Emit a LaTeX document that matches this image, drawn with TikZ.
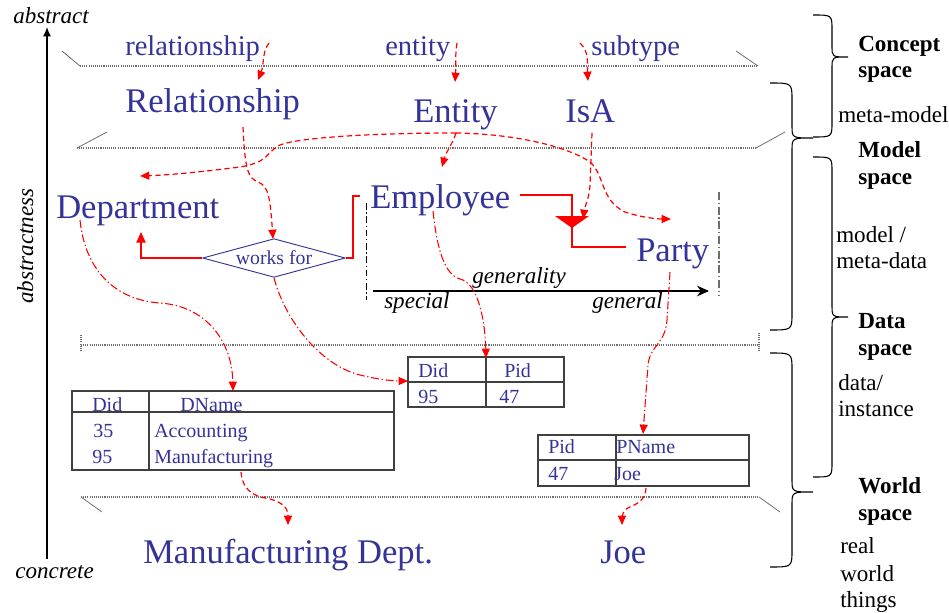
\documentclass[tikz,border=0pt]{standalone}
\usepackage{fontspec}
\setmainfont{Liberation Serif}
\usetikzlibrary{arrows.meta,shapes.geometric}
\definecolor{tblue}{RGB}{51,51,153}
\definecolor{tgray}{RGB}{110,110,110}
\definecolor{tline}{RGB}{64,64,64}
\tikzset{
 concept/.style={text=tblue, font=\fontsize{21.4}{24}\selectfont, inner sep=0pt, anchor=base west},
 big/.style={text=tblue, font=\fontsize{25.9}{30}\selectfont, inner sep=0pt, anchor=base west},
 cell/.style={text=tblue, font=\fontsize{15}{18}\selectfont, inner sep=0pt, anchor=base west},
 axislbl/.style={font=\itshape\fontsize{17.3}{20}\selectfont, inner sep=0pt, anchor=base west},
 side/.style={font=\fontsize{17.3}{20}\selectfont, inner sep=0pt, anchor=base west},
 sideb/.style={font=\bfseries\fontsize{17.3}{20}\selectfont, inner sep=0pt, anchor=base west},
 plane/.style={tgray, line width=0.9pt, dash pattern=on 0.8pt off 0.8pt},
 planeend/.style={tgray, line width=0.6pt},
 tip/.style={-{Triangle[length=7pt,width=6pt]}},
 redarrow/.style={red, line width=0.9pt, dash pattern=on 4pt off 2.5pt, tip},
 reddd/.style={red, line width=0.8pt, dash pattern=on 6pt off 2pt on 1pt off 2pt, tip},
 redsolid/.style={red, line width=0.9pt},
 tbl/.style={tline, line width=1pt},
 brace/.style={black, line width=0.8pt},
 relbox/.style={diamond, draw=tblue, line width=0.7pt, text=tblue, font=\fontsize{14.8}{17}\selectfont,
   inner sep=0pt, aspect=3.67, minimum width=107pt, minimum height=29pt},
}
\begin{document}
\begin{tikzpicture}[x=0.75pt,y=-0.75pt]
\useasboundingbox (0,0) rectangle (949,613);

% ---- abstractness axis
\coordinate (axbot) at (47,559);
\coordinate (axtop) at (47,27);
\draw[line width=0.9pt, -{Latex[length=7pt,width=6pt]}] (axbot) -- (axtop);
\node[axislbl] (labs) at (13,24) {abstract};
\node[axislbl] (lcon) at (15,578) {concrete};
\node[axislbl, rotate=90, anchor=base] (labn) at (33,246) {abstractness};

% ---- planes
\draw[plane] (80,66) -- (758,66);
\draw[planeend] (62,51) -- (80,66);
\draw[planeend] (736,51) -- (758,66);
\draw[plane] (77,148) -- (756,148);
\draw[planeend] (77,148) -- (107,132);
\draw[planeend] (756,148) -- (785,132);
\draw[plane] (81,345) -- (759,345);
\draw[plane] (81,335) -- (81,351);
\draw[plane] (759,333) -- (759,351);
\draw[plane] (81,497) -- (759,497);
\draw[planeend] (81,497) -- (102,512);
\draw[planeend] (759,497) -- (780,512);

% ---- braces
\draw[brace] (813,15) .. controls (832,15) .. (832,30) -- (832,46) .. controls (832,57) .. (848,57)
  .. controls (832,57) .. (832,68) -- (832,122) .. controls (832,137) .. (813,137);
\draw[brace] (770,83) .. controls (792,83) .. (792,100) -- (792,126) .. controls (792,138) .. (813,138)
  .. controls (792,138) .. (792,150) -- (792,313) .. controls (792,330) .. (770,330);
\draw[brace] (813,157) .. controls (832,157) .. (832,172) -- (832,305) .. controls (832,317) .. (848,317)
  .. controls (832,317) .. (832,329) -- (832,462) .. controls (832,477) .. (813,477);
\draw[brace] (770,353) .. controls (792,353) .. (792,370) -- (792,480) .. controls (792,492) .. (813,492)
  .. controls (792,492) .. (792,504) -- (792,550) .. controls (792,567) .. (770,567);

% ---- side labels
\node[sideb] (lc1) at (858,52) {Concept};
\node[sideb] (lc2) at (858,78) {space};
\node[side] (lmm) at (838,123) {meta-model};
\node[sideb] (lm1) at (858,158) {Model};
\node[sideb] (lm2) at (858,185) {space};
\node[side] (lmd1) at (836,242) {model /};
\node[side] (lmd2) at (836,268) {meta-data};
\node[sideb] (ld1) at (858,328) {Data};
\node[sideb] (ld2) at (858,355) {space};
\node[side] (ldi1) at (838,390) {data/};
\node[side] (ldi2) at (838,416) {instance};
\node[sideb] (lw1) at (858,493) {World};
\node[sideb] (lw2) at (858,520) {space};
\node[side] (lr1) at (840,553) {real};
\node[side] (lr2) at (840,581) {world};
\node[side] (lr3) at (840,607) {things};

% ---- concept space
\node[concept] (crel) at (125,56) {relationship};
\node[concept] (cent) at (385,56) {entity};
\node[concept] (csub) at (591,56) {subtype};

% ---- meta-model
\node[big] (mrel) at (125,113) {Relationship};
\node[big] (ment) at (413,123) {Entity};
\node[big] (misa) at (565,123) {IsA};

% ---- model
\node[big] (dept) at (56,218) {Department};
\node[big] (emp) at (370,209) {Employee};
\node[big] (party) at (636,261) {Party};
\node[relbox] (works) at (274,258) {works for};

% generalization frame
\draw[black, line width=0.7pt, dash pattern=on 5pt off 2pt on 1pt off 2pt] (366,203) -- (366,300);
\draw[tgray, line width=0.9pt, dash pattern=on 6pt off 2pt on 1pt off 2pt] (719,192) -- (719,295);
\coordinate (gs) at (373,291);
\coordinate (ge) at (709,291);
\draw[line width=0.9pt, -{Stealth[length=9pt,width=8pt]}] (gs) -- (ge);
\node[axislbl] (lgen) at (472,283) {generality};
\node[axislbl] (lspe) at (384,308) {special};
\node[axislbl] (lgnl) at (592,308) {general};

% relationship lines
\coordinate (deptin) at (141,232);
\draw[redsolid, -{Triangle[length=8pt,width=7pt]}] (works.west) -- (141,258) -- (deptin);
\coordinate (empin) at (360,196);
\draw[redsolid] (works.east) -- (353,258) -- (353,196) -- (empin);
\coordinate (empout) at (520,195);
\coordinate (partyin) at (626,247);
\draw[redsolid] (empout) -- (572,195) -- (572,247) -- (partyin);
\coordinate (tri) at (572,222);
\fill[red] (555,216) -- (589,216) -- (572,228) -- cycle;

% ---- concept -> meta-model
\draw[redarrow] (269,43) .. controls (262,52) and (264,65) .. (258,80);
\draw[redarrow] (457,43) .. controls (455,55) and (456,66) .. (455,82);
\draw[redarrow] (580,43) .. controls (590,52) and (587,66) .. (588,81);

% ---- meta-model -> model
\coordinate (relout) at (243,127);
\draw[redarrow] (relout) .. controls (245,170) and (248,178) .. (258,182)
  .. controls (268,186) and (270,195) .. (273,239);
\coordinate (entout) at (456,133);
\draw[redarrow] (entout) .. controls (452,145) and (446,152) .. (442,167);
\draw[redarrow] (entout) .. controls (380,133) and (300,137) .. (280,145)
  .. controls (266,152) and (270,162) .. (240,167) .. controls (200,172) and (170,175) .. (140,176);
\draw[redarrow] (entout) .. controls (520,134) and (570,148) .. (590,162)
  .. controls (605,175) and (600,200) .. (625,212) .. controls (640,217) and (655,219) .. (671,219);
\coordinate (isaout) at (592,133);
\draw[redarrow] (isaout) -- (590,185) .. controls (589,200) and (585,205) .. (583,219);

% ---- tables
\draw[tbl] (72,391) rectangle (394,470);
\draw[tbl] (72,412) -- (394,412);
\draw[tbl] (149,391) -- (149,470);
\node[cell] (t1a) at (92,411) {Did};
\node[cell] (t1b) at (180,411) {DName};
\node[cell] (t1c) at (93,437) {35};
\node[cell] (t1d) at (154,437) {Accounting};
\node[cell] (t1e) at (92,463) {95};
\node[cell] (t1f) at (154,463) {Manufacturing};

\draw[tbl] (408,357) rectangle (564,407);
\draw[tbl] (408,382) -- (564,382);
\draw[tbl] (486,357) -- (486,407);
\node[cell] (t2a) at (418,377) {Did};
\node[cell] (t2b) at (504,377) {Pid};
\node[cell] (t2c) at (418,403) {95};
\node[cell] (t2d) at (499,403) {47};

\draw[tbl] (538,435) rectangle (749,486);
\draw[tbl] (538,460) -- (749,460);
\draw[tbl] (616,435) -- (616,486);
\node[cell] (t3a) at (548,453) {Pid};
\node[cell] (t3b) at (616,453) {PName};
\node[cell] (t3c) at (548,480) {47};
\node[cell] (t3d) at (614,480) {Joe};

% ---- model -> data
\coordinate (deptout) at (80,220);
\coordinate (t1in) at (233,391);
\draw[reddd] (deptout) .. controls (85,270) and (115,300) .. (160,303) .. controls (205,306) and (232,340) .. (t1in);
\coordinate (t2inl) at (408,381);
\draw[reddd] (works.south) .. controls (285,320) and (320,365) .. (360,375) .. controls (380,380) and (395,381) .. (t2inl);
\coordinate (empdown) at (433,211);
\coordinate (t2int) at (486,358);
\draw[reddd] (empdown) .. controls (437,250) and (445,275) .. (460,279) .. controls (478,283) and (485,320) .. (t2int);
\coordinate (partydown) at (670,272);
\coordinate (t3in) at (643,434);
\draw[reddd] (partydown) -- (667,320) .. controls (665,345) and (650,345) .. (648,365) -- (t3in);

% ---- world
\node[big] (wman) at (143,563) {Manufacturing Dept.};
\node[big] (wjoe) at (600,563) {Joe};
\coordinate (t1out) at (241,472);
\draw[redarrow] (t1out) .. controls (243,495) and (260,497) .. (270,499) .. controls (285,503) and (288,510) .. (288,525);
\coordinate (t3out) at (646,488);
\draw[redarrow] (t3out) .. controls (645,505) and (630,505) .. (625,510) .. controls (622,514) and (622,518) .. (622,525);
\end{tikzpicture}
\end{document}
